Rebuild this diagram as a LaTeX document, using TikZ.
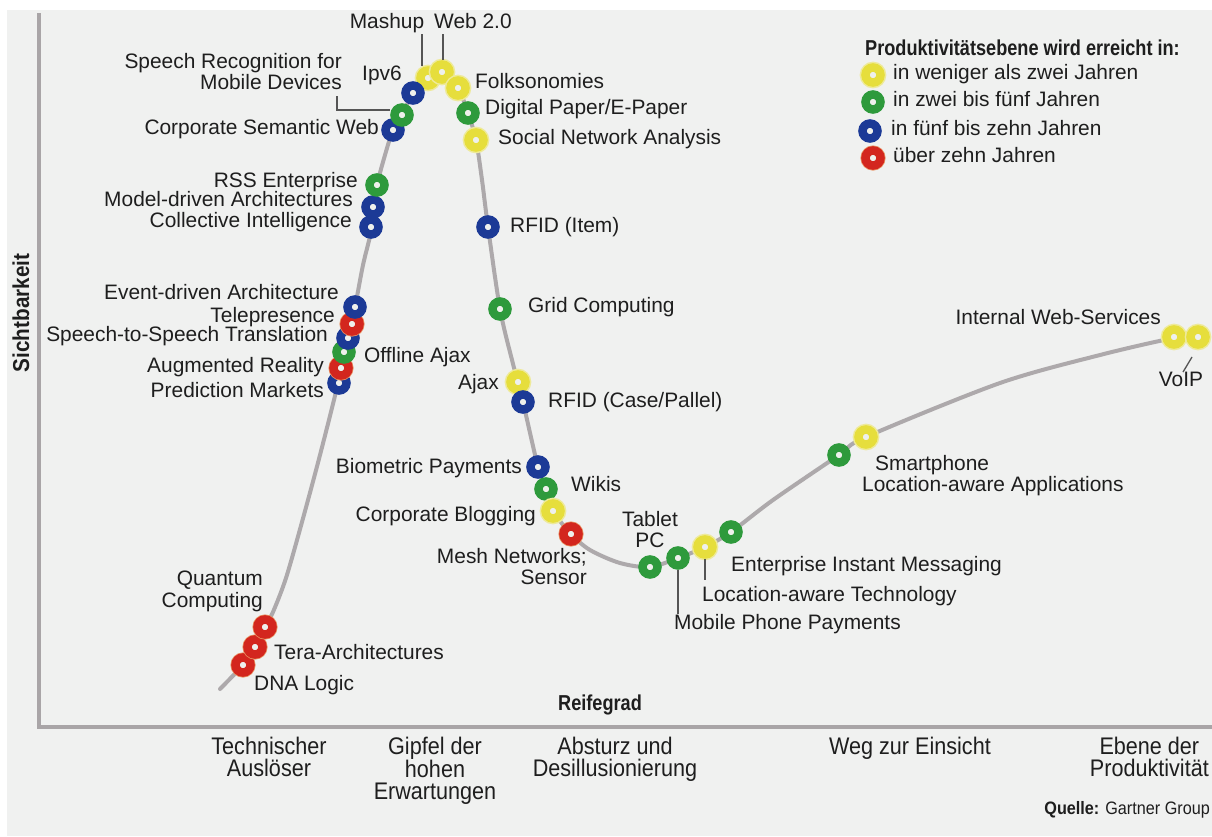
\documentclass[tikz,border=0pt]{standalone}
\usepackage{fontspec}
\setmainfont{Liberation Sans}
\newfontfamily\condfont[FakeStretch=0.84]{Liberation Sans}
\newfontfamily\narrowfont[FakeStretch=0.9]{Liberation Sans}

\definecolor{bgcol}{HTML}{F0F1F0}
\definecolor{axiscol}{HTML}{A9A5A7}
\definecolor{curvecol}{HTML}{ADA9AB}
\definecolor{ringY}{HTML}{E6DE3C}
\definecolor{haloY}{HTML}{EEEA9A}
\definecolor{ringG}{HTML}{2E9A3C}
\definecolor{ringB}{HTML}{1C3A96}
\definecolor{ringR}{HTML}{D3261E}
\definecolor{haloR}{HTML}{E89060}
\definecolor{holecol}{HTML}{EEF0EC}
\definecolor{textcol}{HTML}{1E1E1E}
\definecolor{leadcol}{HTML}{555555}

\tikzset{
  ring/.style={circle, minimum size=15pt, inner sep=0pt, line width=8.5pt, fill=holecol},
  ry/.style={ring, draw=ringY, preaction={draw=haloY, line width=11.5pt}},
  rg/.style={ring, draw=ringG},
  rb/.style={ring, draw=ringB},
  rr/.style={ring, draw=ringR, preaction={draw=haloR, line width=10pt}},
  lbl/.style={font=\fontsize{20.9}{21.5}\selectfont, text=textcol, inner sep=0pt},
  axislbl/.style={font=\condfont\bfseries\fontsize{21.6}{24}\selectfont, text=textcol, inner sep=0pt},
  phase/.style={font=\narrowfont\fontsize{24}{22}\selectfont, text=textcol, inner sep=0pt, align=center, anchor=north},
  leader/.style={draw=leadcol, line width=1.3pt},
  axis/.style={draw=axiscol, line width=4pt},
  hype/.style={draw=curvecol, line width=4pt, line cap=round}
}

\begin{document}
\begin{tikzpicture}[x=1pt,y=-1pt]
\useasboundingbox (0,0) rectangle (1212,836);
\fill[white] (0,0) rectangle (1212,836);
\fill[bgcol] (7,10) rectangle (1212,836);

% axes
\draw[axis] (39,13) -- (39,727) -- (1212,727);
\node[text=textcol, inner sep=0pt, rotate=90, font=\narrowfont\bfseries\fontsize{23}{24}\selectfont] (ylab) at (21,313) {Sichtbarkeit};
\node[axislbl] (xlab) at (600,705) {Reifegrad};

% hype curve
\draw[hype] plot[smooth, tension=0.5] coordinates {
 (220,689) (243,665) (255,648) (265,627) (273,612) (286,578) (302,522)
 (320,455) (338,383) (343,352) (348,337) (355,307) (363,265) (372,227) (377,186)
 (385,155) (393,130) (402,115) (413,93) (428,77) (442,72) (458,88)
 (468,113) (476,140) (482,180) (488,227) (500,309) (512,360) (518,382)
 (523,402) (538,467) (546,489) (553,511) (571,534) (590,550) (620,563)
 (650,567) (678,558) (705,547) (731,532) (773,500) (839,455) (866,437)
 (1000,383) (1100,355) (1174,338) (1198,337)};

% technologies on the curve
\node[rr] (cDNA)   at (243,665) {};
\node[rr] (cTera)  at (255,647) {};
\node[rr] (cQuant) at (265,627) {};
\node[rb] (cPred)  at (339,383) {};
\node[rr] (cAug)   at (341,368) {};
\node[rg] (cOffl)  at (344,352) {};
\node[rb] (cStS)   at (348,338) {};
\node[rr] (cTele)  at (352,324) {};
\node[rb] (cEvent) at (355,307) {};
\node[rb] (cColl)  at (371,227) {};
\node[rb] (cModel) at (373,207) {};
\node[rg] (cRSS)   at (377,185) {};
\node[rb] (cCSW)   at (393,130) {};
\node[rg] (cSR)    at (402,115) {};
\node[ry] (cMash)  at (428,78) {};
\node[ry] (cWeb)   at (442,72) {};
\node[rb] (cIpv)   at (413,93) {};
\node[ry] (cFolk)  at (458,88) {};
\node[rg] (cDig)   at (468,113) {};
\node[ry] (cSNA)   at (476,140) {};
\node[rb] (cRFIDi) at (488,227) {};
\node[rg] (cGrid)  at (500,309) {};
\node[ry] (cAjax)  at (518,382) {};
\node[rb] (cRFIDc) at (523,402) {};
\node[rb] (cBio)   at (538,467) {};
\node[rg] (cWiki)  at (546,489) {};
\node[ry] (cBlog)  at (553,511) {};
\node[rr] (cMesh)  at (571,534) {};
\node[rg] (cTab)   at (650,567) {};
\node[rg] (cMob)   at (678,558) {};
\node[ry] (cLocT)  at (705,547) {};
\node[rg] (cEIM)   at (731,532) {};
\node[rg] (cLocA)  at (839,455) {};
\node[ry] (cSmart) at (866,437) {};
\node[ry] (cIWS)   at (1174,337) {};
\node[ry] (cVoIP)  at (1198,337) {};

% labels
\node[lbl, anchor=mid] (lMash) at (387,26) {Mashup};
\node[lbl, anchor=mid west] (lWeb) at (434,26) {Web 2.0};
\node[lbl, anchor=north east, align=right] (lSR) at (342,53) {Speech Recognition for\\Mobile Devices};
\node[lbl, anchor=mid west] (lIpv) at (362,78) {Ipv6};
\node[lbl, anchor=mid west] (lFolk) at (475,86) {Folksonomies};
\node[lbl, anchor=mid west] (lDig) at (485,112) {Digital Paper/E-Paper};
\node[lbl, anchor=mid west] (lSNA) at (498,142) {Social Network Analysis};
\node[lbl, anchor=mid east] (lCSW) at (379,132) {Corporate Semantic Web};
\node[lbl, anchor=mid east] (lRSS) at (358,185) {RSS Enterprise};
\node[lbl, anchor=mid east] (lModel) at (353,204) {Model-driven Architectures};
\node[lbl, anchor=mid east] (lColl) at (352,225) {Collective Intelligence};
\node[lbl, anchor=mid west] (lRFIDi) at (510,230) {RFID (Item)};
\node[lbl, anchor=mid west] (lGrid) at (528,310) {Grid Computing};
\node[lbl, anchor=mid east] (lEvent) at (339,297) {Event-driven Architecture};
\node[lbl, anchor=mid east] (lTele) at (335,320) {Telepresence};
\node[lbl, anchor=mid east] (lStS) at (328,339) {Speech-to-Speech Translation};
\node[lbl, anchor=mid west] (lOffl) at (364,360) {Offline Ajax};
\node[lbl, anchor=mid east] (lAug) at (324,370) {Augmented Reality};
\node[lbl, anchor=mid east] (lPred) at (324,395) {Prediction Markets};
\node[lbl, anchor=mid east] (lAjax) at (499,387) {Ajax};
\node[lbl, anchor=mid west] (lRFIDc) at (548,405) {RFID (Case/Pallel)};
\node[lbl, anchor=mid east] (lBio) at (522,471) {Biometric Payments};
\node[lbl, anchor=mid west] (lWiki) at (571,489) {Wikis};
\node[lbl, anchor=mid east] (lBlog) at (536,519) {Corporate Blogging};
\node[lbl, anchor=north east, align=right] (lMesh) at (587,548) {Mesh Networks;\\Sensor};
\node[lbl, anchor=north, align=center] (lTab) at (650,511) {Tablet\\PC};
\node[lbl, anchor=mid west] (lEIM) at (731,569) {Enterprise Instant Messaging};
\node[lbl, anchor=mid west] (lLocT) at (702,599) {Location-aware Technology};
\node[lbl, anchor=mid west] (lMob) at (674,627) {Mobile Phone Payments};
\node[lbl, anchor=mid west] (lSmart) at (875,468) {Smartphone};
\node[lbl, anchor=mid west] (lLocA) at (862,489) {Location-aware Applications};
\node[lbl, anchor=mid east] (lIWS) at (1161,322) {Internal Web-Services};
\node[lbl, anchor=mid] (lVoIP) at (1181,384) {VoIP};
\node[lbl, anchor=north east, align=right] (lQuant) at (263,571) {Quantum\\Computing};
\node[lbl, anchor=mid west] (lTera) at (274,657) {Tera-Architectures};
\node[lbl, anchor=mid west] (lDNA) at (254,688) {DNA Logic};

% leader lines
\coordinate (kMash) at (422,34);
\coordinate (kWeb) at (443,34);
\coordinate (kSR) at (337,96);
\coordinate (kVoIP) at (1192,357);
\draw[leader] (kMash) -- (kMash |- cMash.north);
\draw[leader] (kWeb) -- (kWeb |- cWeb.north);
\draw[leader] (kSR) |- ([yshift=5pt]cSR.west);
\draw[leader] (cMob.south) -- (cMob.south |- lMob.north);
\draw[leader] (cLocT.south) -- ([yshift=6pt]cLocT.south |- lLocT.north);
\draw[leader] (kVoIP) -- ([xshift=2pt]lVoIP.north);

% legend
\node[axislbl, anchor=mid west] (legT) at (865,53) {Produktivitätsebene wird erreicht in:};
\node[ry] (legY) at (873,75) {};
\node[rg] (legG) at (873,102) {};
\node[rb] (legB) at (870,131) {};
\node[rr] (legR) at (873,158) {};
\node[lbl, anchor=mid west] (legYt) at (893,77) {in weniger als zwei Jahren};
\node[lbl, anchor=mid west] (legGt) at (893,104) {in zwei bis fünf Jahren};
\node[lbl, anchor=mid west] (legBt) at (891,133) {in fünf bis zehn Jahren};
\node[lbl, anchor=mid west] (legRt) at (893,160) {über zehn Jahren};

% phases
\node[phase] (p1) at (269,737) {Technischer\\Auslöser};
\node[phase] (p2) at (435,737) {Gipfel der\\hohen\\Erwartungen};
\node[phase] (p3) at (615,737) {Absturz und\\Desillusionierung};
\node[phase] (p4) at (910,737) {Weg zur Einsicht};
\node[phase, anchor=north east] (p5) at (1209,737) {Ebene der\\Produktivität};

% source
\node[inner sep=0pt, anchor=mid east, text=textcol, font=\narrowfont\fontsize{18}{19}\selectfont] (src) at (1210,812) {{\bfseries Quelle:} Gartner Group};
\end{tikzpicture}
\end{document}
